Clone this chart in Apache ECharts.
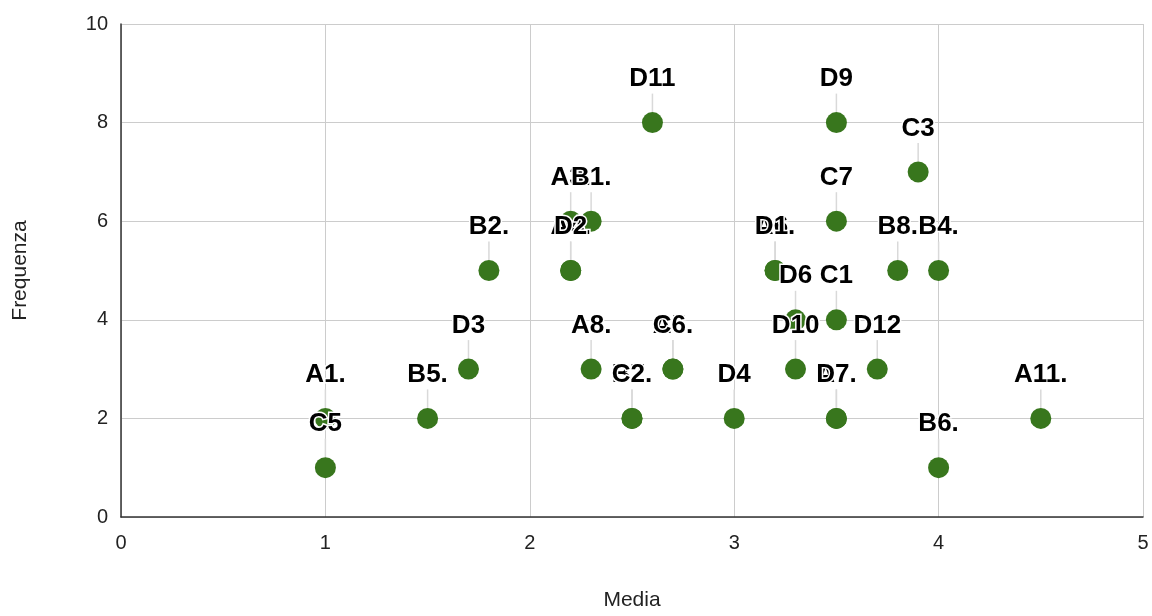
<!DOCTYPE html>
<html>
<head>
<meta charset="utf-8">
<script src="https://cdn.jsdelivr.net/npm/echarts@6/dist/echarts.min.js"></script>
<style>html,body{margin:0;padding:0;background:#fff;}#c{width:1152px;height:616px;}</style>
</head>
<body>
<div id="c"></div>
<script>
// Data (Media, Frequenza, label)
const names = ["A1.","C5","B5.","D3","B2.","A3.","B1.","A4.","D2","A8.","B7.","C2.","D11","A5.","C6.","D4","A6.","D1.","D6","D10","C1","C7","D9","A7.","D7.","D12","B8.","C3","B4.","B6.","A11."];
const media = [1,1,1.5,1.7,1.8,2.2,2.3,2.2,2.2,2.3,2.5,2.5,2.6,2.7,2.7,3,3.2,3.2,3.3,3.3,3.5,3.5,3.5,3.5,3.5,3.7,3.8,3.9,4,4,4.5];
const frequenza = [2,1,2,3,5,6,6,5,5,3,2,2,8,3,3,2,5,5,4,3,4,6,8,2,2,3,5,7,5,1,2];
const xTicks = [0,1,2,3,4,5];
const yTicks = [0,2,4,6,8,10];

const data = names.map((n,i)=>({value:[media[i],frequenza[i]], name:n}));
const chart = echarts.init(document.getElementById('c'));
const font = 'Liberation Sans, Arial, sans-serif';
chart.setOption({
  animation:false,
  grid:{left:121,right:9,top:24,bottom:94},
  xAxis:{type:'value',min:xTicks[0],max:xTicks[xTicks.length-1],interval:1,
    name:'Media',nameLocation:'middle',nameGap:73,
    nameTextStyle:{fontFamily:font,fontSize:21,color:'#222'},
    axisLine:{show:true,lineStyle:{color:'#333',width:1.5}},
    axisTick:{show:false},
    axisLabel:{fontFamily:font,fontSize:20,color:'#222',margin:16},
    splitLine:{show:true,lineStyle:{color:'#cccccc',width:1}}},
  yAxis:{type:'value',min:yTicks[0],max:yTicks[yTicks.length-1],interval:2,
    name:'Frequenza',nameLocation:'middle',nameGap:90,
    nameTextStyle:{fontFamily:font,fontSize:21,color:'#222'},
    axisLine:{show:true,lineStyle:{color:'#333',width:1.5}},
    axisTick:{show:false},
    axisLabel:{fontFamily:font,fontSize:20,color:'#222',margin:13},
    splitLine:{show:true,lineStyle:{color:'#cccccc',width:1}}},
  series:[{
    type:'scatter',
    symbolSize:21,
    itemStyle:{color:'#38761d',opacity:1},
    data:data,
    label:{show:true,position:'top',distance:5,formatter:p=>p.name,
      fontFamily:font,fontSize:26,fontWeight:'bold',color:'#000',
      textBorderColor:'#fff',textBorderWidth:3},
    labelLayout:{dy:-15,moveOverlap:null,hideOverlap:false},
    labelLine:{show:true,length2:0,lineStyle:{color:'#d9d9d9',width:1.5}},
    emphasis:{disabled:true}
  }]
});
</script>
</body>
</html>
